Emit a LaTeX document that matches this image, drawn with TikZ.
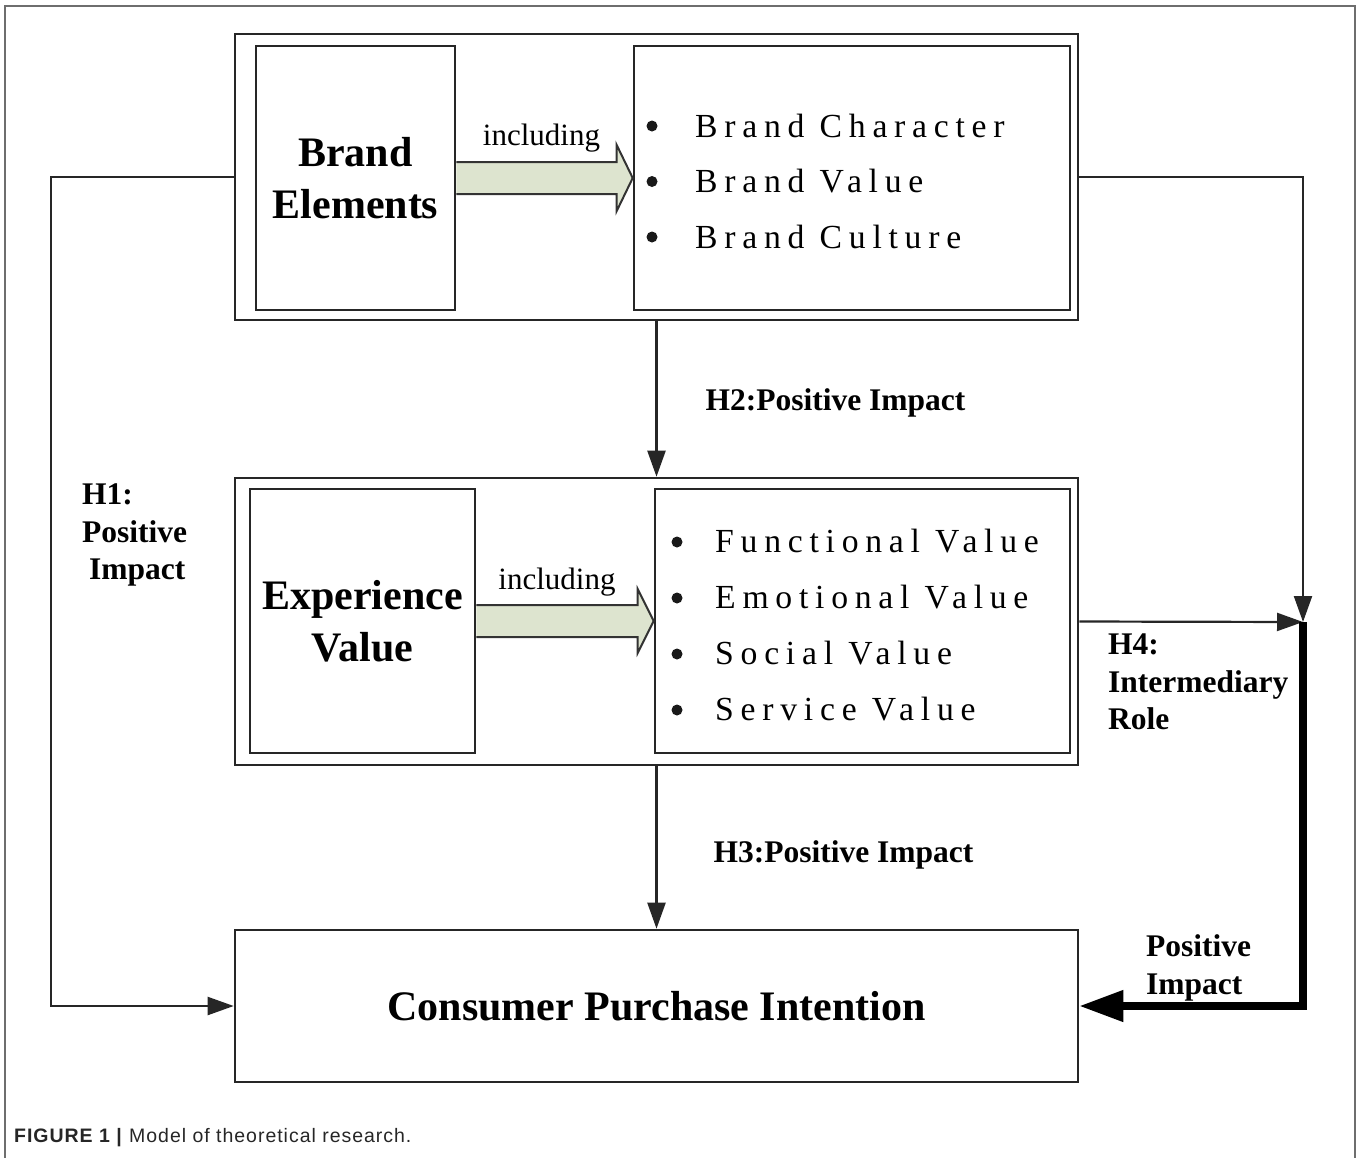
\documentclass[tikz,border=0pt]{standalone}
\usepackage{fontspec}
\setmainfont{Liberation Serif}
\newfontfamily\capfont{Liberation Sans}
\usetikzlibrary{arrows.meta, positioning}

\definecolor{inclfill}{HTML}{DDE4CF}
\definecolor{framegray}{HTML}{6E6E6E}

\begin{document}
\begin{tikzpicture}[
    x=1pt, y=-1pt,
    every node/.style={inner sep=0pt},
    group/.style={rectangle, draw=black!85, line width=2.6pt},
    box/.style={rectangle, draw=black!85, line width=2.6pt, align=center, font=\fontsize{42}{52}\selectfont\bfseries},
    item/.style={anchor=base west, font=\fontsize{33.7}{40}\selectfont\addfontfeature{LetterSpace=20}},
    dot/.style={fill=black!90},
    note/.style={font=\fontsize{31}{36}\selectfont},
    lbl/.style={align=left, font=\fontsize{31.5}{37.5}\selectfont\bfseries},
    conn/.style={draw=black!85, line width=2.2pt, -{Triangle[length=26pt, width=18pt]}},
    strong/.style={draw=black, line width=7.5pt, -{Triangle[length=44pt, width=30pt]}},
    incl/.style={draw=black!80, line width=2pt, fill=inclfill, line join=miter}
]
\useasboundingbox (0,0) rectangle (1360,1157);

% frame round the figure
\draw[framegray, line width=2pt] (5,1170) |- (1355,6) -- (1355,1170);

% brand elements
\node[group, minimum width=843pt, minimum height=286pt] (topgroup) at (656.5,177) {};
\node[box, minimum width=199pt, minimum height=264pt] (brand) at (355.5,178) {Brand\\Elements};
\node[box, minimum width=436pt, minimum height=264pt] (brandlist) at (852,178) {};
\foreach \txt [count=\i] in {Brand Character, Brand Value, Brand Culture} {
    \fill[dot] (652,{126+55.5*(\i-1)}) circle (5.5pt);
    \node[item] (brand-\i) at (695,{137+55.5*(\i-1)}) {\txt};
}

\draw[incl] ([yshift=16pt]brand.east)
    -- node[note, midway, above=9pt, xshift=5pt] (incl-1) {including} ([shift={(-16pt,16pt)}]brandlist.west)
    -- ([shift={(-16pt,33pt)}]brandlist.west) -- (brandlist.west)
    -- ([shift={(-16pt,-33pt)}]brandlist.west) -- ([shift={(-16pt,-16pt)}]brandlist.west)
    -- ([yshift=-16pt]brand.east);

% experience value
\node[group, minimum width=843pt, minimum height=287pt] (expgroup) at (656.5,621.5) {};
\node[box, minimum width=225pt, minimum height=264pt] (exp) at (362.5,621) {Experience\\Value};
\node[box, minimum width=415pt, minimum height=264pt] (explist) at (862.5,621) {};
\foreach \txt [count=\i] in {Functional Value, Emotional Value, Social Value, Service Value} {
    \fill[dot] (677,{542+56*(\i-1)}) circle (5.5pt);
    \node[item] (exp-\i) at (715,{552+56*(\i-1)}) {\txt};
}

\draw[incl] ([yshift=16pt]exp.east)
    -- node[note, midway, above=8pt] (incl-2) {including} ([shift={(-16pt,16pt)}]explist.west)
    -- ([shift={(-16pt,32pt)}]explist.west) -- (explist.west)
    -- ([shift={(-16pt,-32pt)}]explist.west) -- ([shift={(-16pt,-16pt)}]explist.west)
    -- ([yshift=-16pt]exp.east);

% purchase intention
\node[box, minimum width=843pt, minimum height=152pt] (intent) at (656.5,1006) {Consumer Purchase Intention};

% hypotheses
\draw[conn] (topgroup.west) -- ++(-183,0) |- (intent.west);
\node[lbl, anchor=west] (h1) at (82,535) {H1:\\Positive\\\hspace*{7pt}Impact};

\draw[conn] (topgroup.south) -- node[lbl, right=48pt, yshift=-4pt] (h2) {H2:Positive Impact} (expgroup.north);
\draw[conn] (expgroup.south) -- node[lbl, right=56pt, yshift=-7pt] (h3) {H3:Positive Impact} (intent.north);

\coordinate (junc) at (1303,622);
\draw[conn] (topgroup.east) -| (junc);
\draw[conn] (expgroup.east) -- (junc);
\draw[strong] (junc) |- (intent.east);
\node[lbl, anchor=west] (h4) at (1108,682) {H4:\\Intermediary\\Role};
\node[lbl, anchor=west] (h4b) at (1146,968) {Positive\\Impact};

% caption
\node[anchor=base west, text=black!85, font=\capfont\fontsize{19.5}{24}\selectfont\addfontfeature{LetterSpace=5}] (caption) at (14,1142)
    {\textbf{FIGURE 1 |} Model of theoretical research.};
\end{tikzpicture}
\end{document}
